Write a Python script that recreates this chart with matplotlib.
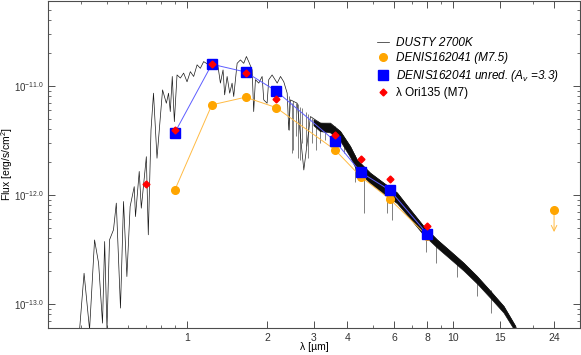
import numpy as np
import matplotlib
matplotlib.use("Agg")
import matplotlib.pyplot as plt
from matplotlib.ticker import FixedLocator, LogLocator, NullFormatter, FuncFormatter

plt.rcParams['font.family'] = ['Liberation Sans', 'DejaVu Sans']
plt.rcParams['mathtext.fontset'] = 'custom'
plt.rcParams['mathtext.rm'] = 'Liberation Sans'
plt.rcParams['mathtext.it'] = 'Liberation Sans:italic'

# photometry (micron, erg/s/cm^2)
phot_lam = [0.9, 1.24, 1.66, 2.16, 3.6, 4.5, 5.8, 8.0]
denis_obs = [1.11e-12, 6.7e-12, 7.87e-12, 6.33e-12, 2.59e-12, 1.47e-12, 9.1e-13, 4.2e-13]
denis_unred = [3.73e-12, 1.58e-11, 1.34e-11, 9.0e-12, 3.12e-12, 1.61e-12, 1.10e-12, 4.39e-13]
mips_lam = 24.0
mips_lim = 7.28e-13
mips_arrow_to = 4.3e-13

ori_lam = [0.70, 0.9, 1.24, 1.66, 2.16, 3.6, 4.5, 5.8, 8.0]
ori_flux = [1.25e-12, 3.93e-12, 1.58e-11, 1.30e-11, 7.6e-12, 3.55e-12, 2.13e-12, 1.39e-12, 5.13e-13]

# DUSTY 2700K model
spec_lam = [0.393, 0.410, 0.430, 0.449, 0.465, 0.481, 0.490, 0.500, 0.511, 0.529,
            0.542, 0.562, 0.577, 0.594, 0.611, 0.633, 0.640, 0.661, 0.673, 0.703,
            0.715, 0.732, 0.748, 0.771, 0.793, 0.809, 0.836, 0.852, 0.865, 0.880,
            0.896, 0.917, 0.944, 0.971, 1.000, 1.029, 1.059, 1.091, 1.122, 1.155,
            1.206, 1.259, 1.297, 1.335, 1.366, 1.385, 1.415, 1.447, 1.477, 1.498,
            1.543, 1.588, 1.634, 1.672, 1.706, 1.757, 1.781, 1.808, 1.861, 1.916,
            1.943, 2.000, 2.029, 2.089, 2.183, 2.246, 2.311, 2.380, 2.413, 2.449,
            2.596, 2.749, 2.912, 3.177, 3.465, 3.779, 4.121, 4.368, 4.90, 5.50,
            6.18, 6.93, 7.78, 8.74, 9.81, 11.0, 12.36, 13.88, 15.57, 17.23, 17.6]
spec_flux = [5.2e-14, 1.91e-13, 5.8e-14, 3.86e-13, 2.36e-13, 6.65e-14, 3.73e-13, 5.8e-14, 3.86e-13, 4.78e-13,
             8.4e-13, 9.14e-14, 8.69e-13, 1.78e-13, 7.82e-13, 1.19e-12, 6.32e-13, 1.64e-12, 7.55e-13, 2.24e-12,
             4.3e-13, 3.94e-12, 8.57e-12, 2.17e-12, 5.06e-12, 9.19e-12, 6.93e-12, 8.57e-12, 5.81e-12, 1.22e-11,
             4.7e-12, 1.26e-11, 1.18e-11, 1.31e-11, 1.09e-11, 1.35e-11, 1.22e-11, 1.56e-11, 1.45e-11, 1.67e-11,
             1.56e-11, 1.67e-11, 1.73e-11, 1.06e-11, 1.40e-11, 8.27e-12, 1.22e-11, 8.57e-12, 1.06e-11, 7.98e-12,
             1.61e-11, 1.73e-11, 1.61e-11, 1.86e-11, 1.67e-11, 1.40e-11, 5.81e-12, 1.14e-11, 1.06e-11, 1.22e-11,
             7.44e-12, 6.93e-12, 1.14e-11, 1.26e-11, 1.06e-11, 1.22e-11, 1.09e-11, 8.57e-12, 3.94e-12, 7.44e-12,
             6.93e-12, 1.69e-12, 5.23e-12, 4.55e-12, 4.55e-12, 3.81e-12, 2.77e-12, 2.09e-12, 1.58e-12, 1.28e-12,
             1.04e-12, 7.28e-13, 5.12e-13, 3.86e-13, 3.02e-13, 2.36e-13, 1.78e-13, 1.30e-13, 9.44e-14, 6.2e-14, 5.3e-14]

# upper and lower edge of the dense line forest
band_up_lam = [3.0, 3.177, 3.465, 3.779, 4.121, 4.368, 4.90, 5.50,
               6.18, 6.93, 7.78, 8.74, 9.81, 11.0, 12.36, 13.88, 15.57, 17.23]
band_up = [4.9e-12, 4.55e-12, 4.5e-12, 3.81e-12, 2.77e-12, 2.09e-12, 1.58e-12, 1.28e-12,
           1.04e-12, 7.28e-13, 5.12e-13, 3.86e-13, 3.02e-13, 2.36e-13, 1.78e-13, 1.30e-13, 9.44e-14, 6.2e-14]
band_lo_lam = [3.0, 3.177, 3.465, 3.779, 4.121, 4.368, 4.90, 5.50,
               6.18, 6.93, 7.78, 8.74, 9.81, 11.0, 12.36, 13.88, 15.57, 17.23]
band_lo = [4.3e-12, 3.8e-12, 3.7e-12, 3.1e-12, 2.2e-12, 1.65e-12, 1.27e-12, 1.02e-12,
           8.3e-13, 6.0e-13, 4.25e-13, 3.25e-13, 2.55e-13, 2.0e-13, 1.52e-13, 1.12e-13, 8.2e-14, 5.5e-14]

# deep absorption spikes
spike_lam = [2.42, 2.485, 2.50, 2.56, 2.62, 2.655, 2.70, 2.80, 2.86, 2.95,
             3.05, 3.15, 3.30, 3.60, 3.90, 4.30, 4.62, 5.665, 5.92, 7.90,
             8.61, 10.4, 12.36, 13.88]
spike_top = [8.0e-12, 6.93e-12, 7.2e-12, 7.0e-12, 6.8e-12, 6.46e-12, 6.3e-12, 5.8e-12, 5.5e-12, 5.1e-12,
             4.8e-12, 4.6e-12, 4.5e-12, 4.3e-12, 3.4e-12, 2.3e-12, 1.82e-12, 1.19e-12, 1.11e-12, 4.78e-13,
             3.86e-13, 2.54e-13, 1.78e-13, 1.35e-13]
spike_bot = [3.9e-12, 2.42e-12, 2.6e-12, 3.5e-12, 2.2e-12, 2.09e-12, 3.0e-12, 2.8e-12, 2.2e-12, 3.0e-12,
             2.6e-12, 3.0e-12, 3.2e-12, 2.9e-12, 2.4e-12, 1.3e-12, 6.8e-13, 6.8e-13, 5.9e-13, 3.02e-13,
             2.36e-13, 1.78e-13, 1.17e-13, 8.2e-14]

xticks = [1, 2, 3, 4, 6, 8, 10, 15, 24]
yticks = [1e-13, 1e-12, 1e-11]

fig = plt.figure(figsize=(5.81, 3.55), dpi=100)
ax = fig.add_axes([0.0826, 0.076, 0.9154, 0.921])

ax.plot(spec_lam, spec_flux, color='0.1', lw=0.5, label='DUSTY 2700K', zorder=2)
ax.fill(np.concatenate([band_up_lam, band_lo_lam[::-1]]),
        np.concatenate([band_up, band_lo[::-1]]), color='0.05', lw=0.4, zorder=2)
ax.vlines(spike_lam, spike_bot, spike_top, color='0.3', lw=0.5, zorder=1)

ax.plot(phot_lam, denis_obs, color='#ffbb44', lw=0.7, zorder=3)
ax.plot(phot_lam, denis_unred, color='#5d5dff', lw=0.7, zorder=3)
ax.plot(phot_lam, denis_obs, 'o', color='orange', ms=5.5, mec='orange', zorder=4,
        label='DENIS162041 (M7.5)')
ax.plot([mips_lam], [mips_lim], 'o', color='orange', ms=5.5, zorder=4)
ax.annotate('', xy=(mips_lam, mips_arrow_to), xytext=(mips_lam, mips_lim),
            arrowprops=dict(arrowstyle='->', color='#ffbb44', lw=0.7), zorder=3)
ax.plot(phot_lam, denis_unred, 's', color='blue', ms=6.5, zorder=5,
        label='DENIS162041 unred. (A$_\\mathit{v}$ =3.3)')
ax.plot(ori_lam, ori_flux, 'D', color='red', ms=3.5, zorder=6, label='λ Ori135 (M7)')

ax.set_xscale('log')
ax.set_yscale('log')
ax.set_xlim(0.3, 30)
ax.set_ylim(6e-14, 6e-11)

ax.xaxis.set_major_locator(FixedLocator(xticks))
ax.set_xticklabels([str(t) for t in xticks])
ax.xaxis.set_minor_locator(LogLocator(base=10, subs=np.arange(1, 10), numticks=20))
ax.xaxis.set_minor_formatter(NullFormatter())
ax.yaxis.set_major_locator(FixedLocator(yticks))
ax.yaxis.set_major_formatter(FuncFormatter(lambda v, p: '$10^{%.1f}$' % np.log10(v)))
ax.yaxis.set_minor_locator(LogLocator(base=10, subs=np.arange(2, 10), numticks=20))
ax.yaxis.set_minor_formatter(NullFormatter())

ax.tick_params(which='both', direction='in', top=True, right=True, colors='0.2')
ax.tick_params(axis='x', labelsize=7.5)
ax.tick_params(axis='y', labelsize=7, pad=3)
ax.tick_params(which='major', length=5, width=0.6)
ax.tick_params(which='minor', length=2.5, width=0.5)
for s in ax.spines.values():
    s.set_linewidth(0.8)
    s.set_color('0.3')

ax.set_xlabel('λ [µm]', fontsize=7.5)
ax.xaxis.set_label_coords(0.5, -0.042)
ax.set_ylabel('Flux [erg/s/cm$^2$]', fontsize=7.5)
ax.yaxis.set_label_coords(-0.062, 0.5)

leg = ax.legend(loc='upper left', bbox_to_anchor=(0.61, 0.905), frameon=False, fontsize=8.5,
                handlelength=1.0, handletextpad=0.6, labelspacing=0.3, borderaxespad=0)
for t in leg.get_texts()[:3]:
    t.set_style('italic')

fig.savefig('out.png', dpi=100)
